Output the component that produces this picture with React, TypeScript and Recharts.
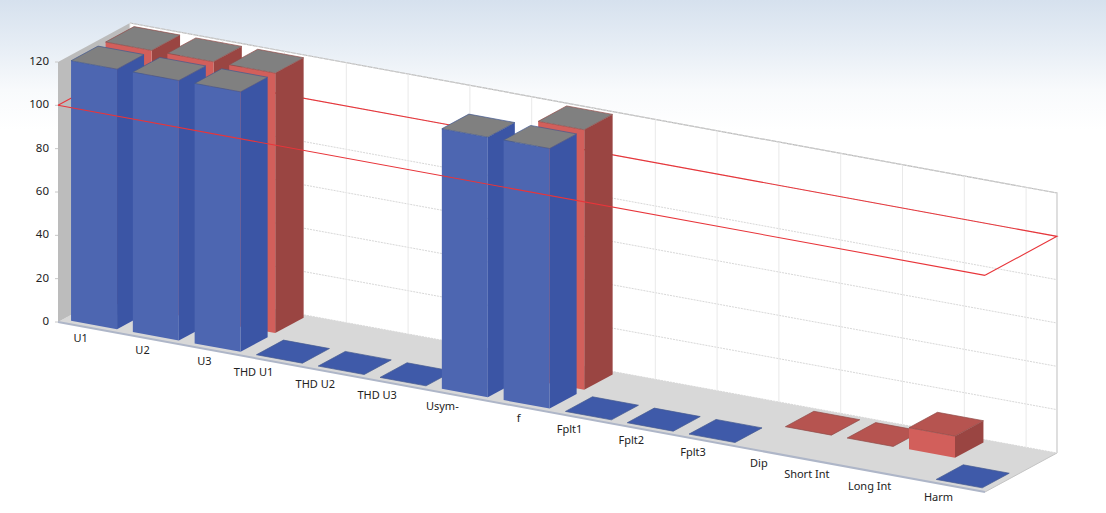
import React from "react";
import { BarChart, Bar, XAxis, YAxis, CartesianGrid, ReferenceArea, ReferenceLine } from "recharts";

const categories = ["U1", "U2", "U3", "THD U1", "THD U2", "THD U3", "Usym-", "f", "Fplt1", "Fplt2", "Fplt3", "Dip", "Short Int", "Long Int", "Harm"];
const blueValues: (number | null)[] = [120, 120, 120, 0, 0, 0, 120, 120, 0, 0, 0, null, null, null, 0];
const redValues: (number | null)[] = [120, 120, 120, null, null, null, null, 120, null, null, null, 0, 0, 10, null];
const yTicks = [0, 20, 40, 60, 80, 100, 120];
const AXIS_MAX = 120;
const LIMIT = 100;

const tableData = categories.map((name, i) => ({ name, blue: blueValues[i], red: redValues[i] }));

const W = 1106, H = 513;
const LEFT = 58, TOP = 62, RIGHT = 985, BOTTOM = 322;
const DX = 72, DY = 39, SLOPE = 0.1834;
const FONT = "'Noto Sans', sans-serif";

const P = (x: number, y: number, d = 0): [number, number] => [x + d * DX, y + (x - LEFT) * SLOPE - d * DY];
const pts = (...list: [number, number][]) => list.map((p) => p.join(",")).join(" ");

type Look = { front: string; side: string; flat: string; edge: string };
const blueLook: Look = { front: "#4d66b1", side: "#3b55a5", flat: "#3f5aa9", edge: "#44598f" };
const redLook: Look = { front: "#d25f5b", side: "#9a4542", flat: "#b65450", edge: "#8f4a48" };

const makeBar = (look: Look, d0: number, d1: number, key: "blue" | "red") => (props: any) => {
  const v = props.payload?.[key];
  if (v === null || v === undefined) return <g />;
  const { x, y, width, height } = props;
  const yb = y + height;
  const xr = x + width;
  const topFill = v >= AXIS_MAX ? "#808080" : look.flat;
  return (
    <g>
      {height > 0.5 && <polygon points={pts(P(xr, y, d0), P(xr, y, d1), P(xr, yb, d1), P(xr, yb, d0))} fill={look.side} />}
      {height > 0.5 && <polygon points={pts(P(x, y, d0), P(xr, y, d0), P(xr, yb, d0), P(x, yb, d0))} fill={look.front} />}
      <polygon points={pts(P(x, y, d0), P(xr, y, d0), P(xr, y, d1), P(x, y, d1))} fill={topFill} stroke={look.edge} strokeWidth={0.7} />
    </g>
  );
};

const Walls = () => {
  const hi = P(LEFT, TOP, 1), hr = P(RIGHT, TOP, 1), br = P(RIGHT, BOTTOM, 1), bl = P(LEFT, BOTTOM, 1);
  const fl = P(LEFT, BOTTOM, 0), fr = P(RIGHT, BOTTOM, 0), tl = P(LEFT, TOP, 0);
  return (
    <g>
      <polygon points={pts(hi, hr, br, bl)} fill="#ffffff" />
      <polygon points={pts(fl, fr, br, bl)} fill="#d8d8d8" />
      <polygon points={pts(tl, hi, bl, fl)} fill="#bcbcbc" />
      <polyline points={pts(hi, hr, br)} fill="none" stroke="#b8b8b8" strokeWidth={1.2} />
      <line x1={fl[0]} y1={fl[1]} x2={fr[0]} y2={fr[1]} stroke="#aeb6c8" strokeWidth={2} />
      <line x1={fr[0]} y1={fr[1]} x2={br[0]} y2={br[1]} stroke="#c4c4c4" strokeWidth={1} />
    </g>
  );
};

const gridH = (p: any) => {
  const a = P(LEFT, p.y1, 1), b = P(RIGHT, p.y1, 1);
  return <line key={p.key ?? p.y1} x1={a[0]} y1={a[1]} x2={b[0]} y2={b[1]} stroke="#d8d8d8" strokeDasharray="2 1" />;
};
const gridV = (p: any) => {
  const a = P(p.x1, TOP, 1), b = P(p.x1, BOTTOM, 1);
  return <line key={p.key ?? p.x1} x1={a[0]} y1={a[1]} x2={b[0]} y2={b[1]} stroke="#e9e9e9" />;
};

const planeBack = (p: any) => {
  const y = p.y1 ?? p.y;
  return <polyline points={pts(P(LEFT, y, 0), P(LEFT, y, 1), P(RIGHT, y, 1), P(RIGHT, y, 0))} fill="none" stroke="#e8353a" strokeWidth={1.1} />;
};
const planeFront = (p: any) => {
  const y = p.y1 ?? p.y;
  return <polyline points={pts(P(LEFT, y, 0), P(RIGHT, y, 0))} fill="none" stroke="#e8353a" strokeWidth={1.1} />;
};

const XTick = (p: any) => {
  const x = p.x - 1;
  const y = 338 + (p.x - 89) * SLOPE;
  return <text x={x} y={y} textAnchor="end" dominantBaseline="central" fontFamily={FONT} fontSize={11} fill="#222">{p.payload.value}</text>;
};

export default function App() {
  return (
    <div style={{ position: "absolute", left: 0, top: 0, width: W, height: H, background: "linear-gradient(#d6e1ee 0px, #e6edf5 45px, #f8fafc 90px, #ffffff 130px)" }}>
      <BarChart width={W} height={H} data={tableData} barSize={46} barGap={-46} margin={{ top: TOP, right: W - RIGHT, bottom: H - BOTTOM - 30, left: 0 }}>
        <ReferenceArea shape={() => <Walls />} ifOverflow="visible" {...({ zIndex: -300 } as any)} />
        <CartesianGrid horizontal={gridH} vertical={gridV} {...({ zIndex: -200 } as any)} />
        <ReferenceLine y={LIMIT} shape={planeBack} ifOverflow="visible" {...({ zIndex: -100 } as any)} />
        <XAxis dataKey="name" axisLine={false} tickLine={false} interval={0} height={30} tick={<XTick />} />
        <YAxis width={LEFT} domain={[0, AXIS_MAX]} ticks={yTicks} axisLine={false} tickSize={3} tickMargin={6} tickLine={{ stroke: "#c8c8c8" }} tick={{ fontFamily: FONT, fontSize: 11.5, fill: "#222", dy: -1 }} />
        <Bar dataKey="red" isAnimationActive={false} shape={makeBar(redLook, 0.55, 0.945, "red")} />
        <Bar dataKey="blue" isAnimationActive={false} shape={makeBar(blueLook, 0.07, 0.445, "blue")} />
        <ReferenceLine y={LIMIT} shape={planeFront} ifOverflow="visible" {...({ zIndex: 2000 } as any)} />
      </BarChart>
    </div>
  );
}
